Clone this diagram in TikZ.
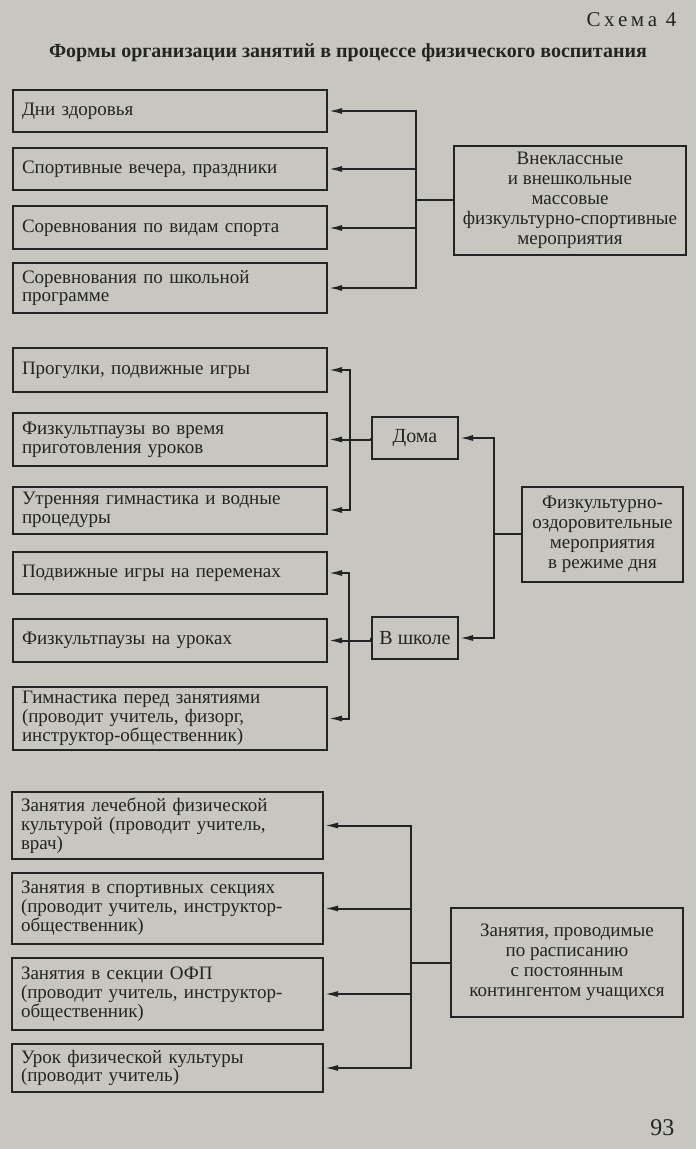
\documentclass[tikz,border=0pt]{standalone}
\usepackage{fontspec}
\setmainfont{Liberation Serif}
\usetikzlibrary{arrows.meta}
\definecolor{paper}{RGB}{199,198,192}
\definecolor{ink}{RGB}{36,36,36}

\begin{document}
\begin{tikzpicture}[
    x=0.5pt, y=-0.5pt,
    color=ink, line width=1pt,
    item/.style={draw, rectangle, align=left, text width=148pt, inner xsep=4.5pt, inner ysep=0pt, font=\fontsize{9.5}{9.4}\selectfont},
    itemc/.style={item, text width=146.5pt},
    hub/.style={draw, rectangle, align=center, inner sep=0pt, font=\fontsize{9.5}{10}\selectfont},
    place/.style={draw, rectangle, minimum width=43pt, minimum height=21pt, inner sep=0pt, font=\fontsize{10}{12}\selectfont},
    arr/.style={-{Latex[length=7pt, width=3pt]}}
]
\fill[paper] (0,0) rectangle (696,1149);
\useasboundingbox (0,0) rectangle (696,1149);

% Heading
\node[anchor=east, font=\fontsize{10.5}{12}\selectfont] (scheme) at (684,20) {С\,х\,е\,м\,а\, 4};
\node[font=\bfseries\fontsize{10}{12}\selectfont] (title) at (348,53) {Формы организации занятий в процессе физического воспитания};
\node[anchor=east, font=\fontsize{12}{14}\selectfont] (page) at (682,1128) {93};

% Nodes: out-of-school events
\node[item, minimum height=21pt] (a1) at (170,111) {Дни здоровья};
\node[item, minimum height=21pt] (a2) at (170,169) {Спортивные вечера, праздники};
\node[item, minimum height=21.5pt] (a3) at (170,228) {Соревнования по видам спорта};
\node[item, minimum height=25pt] (a4) at (170,288) {Соревнования по школьной\\программе};
\node[hub, minimum width=116pt, minimum height=54.5pt] (mass) at (570,200.5)
    {Внеклассные\\и внешкольные\\массовые\\физкультурно-спортивные\\мероприятия};

% Nodes: daily routine
\node[item, minimum height=22pt] (b1) at (170,370) {Прогулки, подвижные игры};
\node[item, minimum height=26.5pt] (b2) at (170,439.5) {Физкультпаузы во время\\приготовления уроков};
\node[item, minimum height=23.5pt] (b3) at (170,510) {Утренняя гимнастика и водные\\процедуры};
\node[item, minimum height=21pt] (b4) at (170,573) {Подвижные игры на переменах};
\node[item, minimum height=21.5pt] (b5) at (170,640.5) {Физкультпаузы на уроках};
\node[item, minimum height=31.5pt] (b6) at (170,718.5) {Гимнастика перед занятиями\\(проводит учитель, физорг,\\инструктор-общественник)};
\node[place] (dom) at (415,438) {Дома};
\node[place] (school) at (415,638) {В школе};
\node[hub, minimum width=80.5pt, minimum height=47.5pt] (health) at (602.5,534)
    {Физкультурно-\\оздоровительные\\мероприятия\\в режиме дня};

% Nodes: scheduled lessons
\node[itemc, minimum height=33.5pt] (c1) at (167.5,825.5) {Занятия лечебной физической\\культурой (проводит учитель,\\врач)};
\node[itemc, minimum height=35.5pt] (c2) at (167.5,908.5) {Занятия в спортивных секциях\\(проводит учитель, инструктор-\\общественник)};
\node[itemc, minimum height=36pt] (c3) at (167.5,994) {Занятия в секции ОФП\\(проводит учитель, инструктор-\\общественник)};
\node[itemc, minimum height=24pt] (c4) at (167.5,1068) {Урок физической культуры\\(проводит учитель)};
\node[hub, minimum width=116pt, minimum height=54.5pt] (sched) at (567,962.5)
    {Занятия, проводимые\\по расписанию\\с постоянным\\контингентом учащихся};

% Junctions
\coordinate (ja) at (416,200.5);
\coordinate (jh) at (494,534);
\coordinate (jd) at (350,438);
\coordinate (js) at (349,638);
\coordinate (jc) at (411,962.5);

% Connectors: out-of-school events
\draw (mass.west) -- (ja);
\foreach \n in {a1,a2,a3,a4}
    \draw[arr] (ja) |- (\n.east);

% Connectors: daily routine
\draw (health.west) -- (jh);
\draw[arr] (jh) |- (dom.east);
\draw[arr] (jh) |- (school.east);
\draw[arr] (dom.west) -- (b2.east -| dom.west) -- (b2.east);
\draw[arr] (jd) |- (b1.east);
\draw[arr] (jd) |- (b3.east);
\draw[arr] (school.west) -- (b5.east -| school.west) -- (b5.east);
\draw[arr] (js) |- (b4.east);
\draw[arr] (js) |- (b6.east);

% Connectors: scheduled lessons
\draw (sched.west) -- (jc);
\foreach \n in {c1,c2,c3,c4}
    \draw[arr] (jc) |- (\n.east);

\end{tikzpicture}
\end{document}
